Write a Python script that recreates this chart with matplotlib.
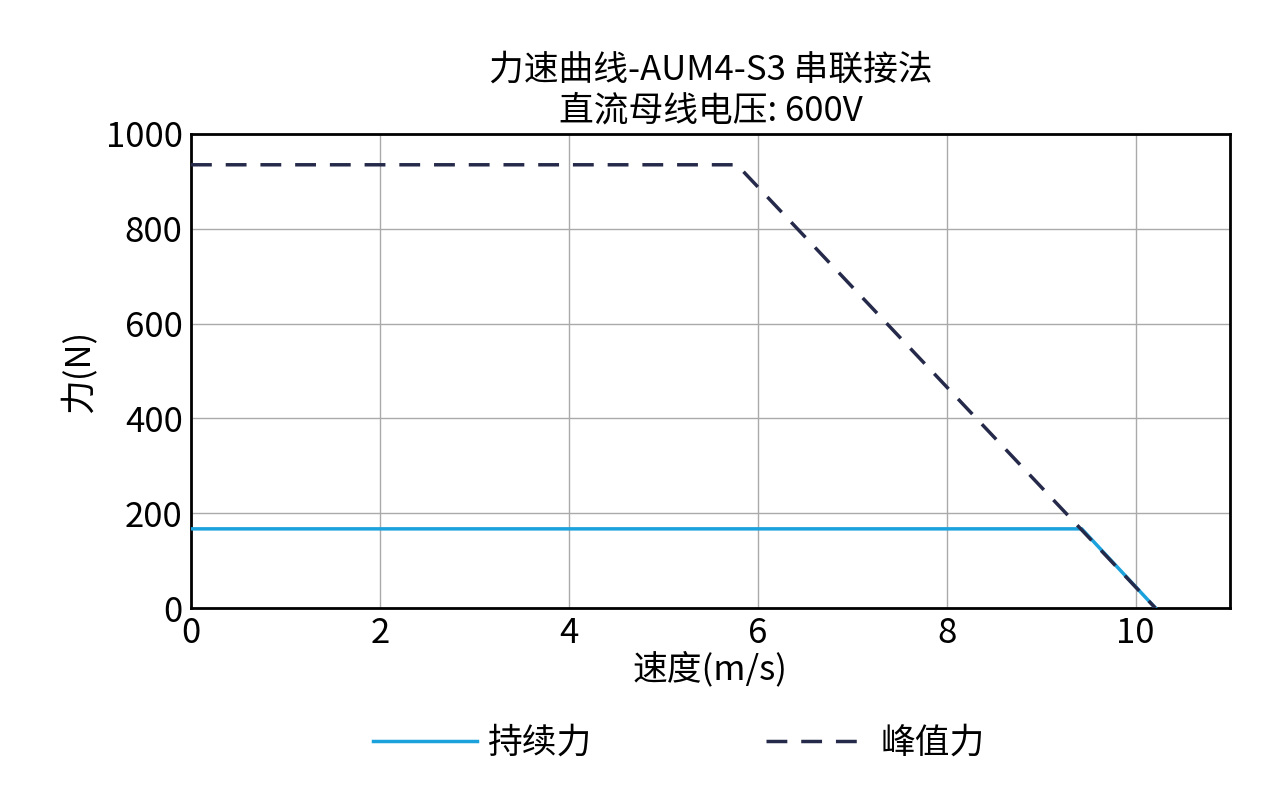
import matplotlib
matplotlib.use("Agg")
import matplotlib.pyplot as plt

plt.rcParams['font.family'] = ['Noto Sans CJK SC', 'DejaVu Sans']

cont_x = [0, 9.43, 10.21]
cont_y = [167, 167, 0]
peak_x = [0, 5.78, 10.21]
peak_y = [935, 935, 0]

fig = plt.figure(figsize=(12.69, 7.88), dpi=100)
ax = fig.add_axes([0.1505, 0.2284, 0.8188, 0.6016])
ax.plot(cont_x, cont_y, color='#1ba1dc', lw=2.5, label='持续力', zorder=3)
ax.plot(peak_x, peak_y, color='#262a4a', lw=2.5, ls=(0, (6, 4)), label='峰值力', zorder=4)
ax.set_xlim(0, 11)
ax.set_ylim(0, 1000)
ax.set_xticks([0, 2, 4, 6, 8, 10])
ax.set_yticks([0, 200, 400, 600, 800, 1000])
ax.grid(True, color='#aaaaaa', lw=1)
for s in ax.spines.values():
    s.set_linewidth(2)
ax.tick_params(labelsize=25, length=0, pad=6)
ax.set_xlabel('速度(m/s)', fontsize=25, labelpad=0)
ax.set_ylabel('力(N)', fontsize=25, labelpad=6)
ax.set_title('力速曲线-AUM4-S3 串联接法\n直流母线电压: 600V', fontsize=25, linespacing=1.2, pad=10)
fig.legend(loc='lower center', bbox_to_anchor=(0.535, -0.005), ncol=2, frameon=False,
           fontsize=25, handlelength=3.0, handletextpad=0.3, columnspacing=5)
fig.savefig('out.png', dpi=100)
